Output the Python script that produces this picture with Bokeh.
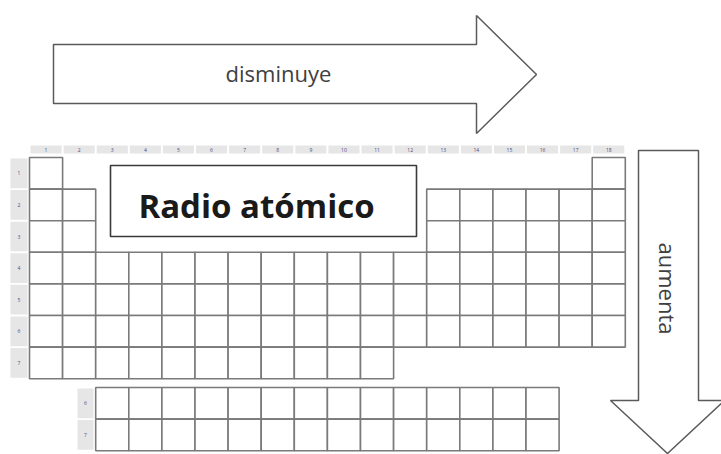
import math
from bokeh.plotting import figure
from bokeh.models import Range1d
from bokeh.core.properties import value
from bokeh.embed import file_html
from bokeh.resources import INLINE

# ---- data ----
groups = list(range(1, 19))
periods = list(range(1, 8))
group_labels = [str(g) for g in groups]
period_labels = [str(p) for p in periods]
# groups present in each period (first, last)
period_spans = [
    [(1, 1), (18, 18)],
    [(1, 2), (13, 18)],
    [(1, 2), (13, 18)],
    [(1, 18)],
    [(1, 18)],
    [(1, 18)],
    [(1, 11)],
]
f_labels = ["6", "7"]
f_count = 14
f_first_group = 3
title_text = "Radio atómico"
row_trend = "disminuye"
col_trend = "aumenta"

# ---- layout (pixel geometry of the picture -> cell units) ----
W, H = 721, 454
X0, CW = 29.0, 33.1
Y0, RH = 157.0, 31.6


def px(X):
    return (X - X0) / CW


def py(Y):
    return (Y - Y0) / RH


p = figure(width=W, height=H, output_backend="svg", toolbar_location=None,
           x_range=Range1d(px(0), px(W)), y_range=Range1d(py(H), py(0)),
           min_border=0)
p.axis.visible = False
p.grid.visible = False
p.outline_line_color = None
p.background_fill_color = "white"
p.border_fill_color = "white"

CELL_LINE = "#7a7a7a"
HEAD_FILL = "#e6e6e6"
NUM_COLOR = "#4a4a80"

# main table cells
cx, cy = [], []
for per, spans in zip(periods, period_spans):
    for a, b in spans:
        for g in range(a, b + 1):
            cx.append(g - 0.5)
            cy.append(per - 0.5)
p.rect(x=cx, y=cy, width=1, height=1, fill_color="white",
       line_color=CELL_LINE, line_width=1.6)

# f-block
f_top = py(387)
fx, fy = [], []
for i in range(len(f_labels)):
    for j in range(f_count):
        fx.append(f_first_group - 1 + j + 0.5)
        fy.append(f_top + i + 0.5)
p.rect(x=fx, y=fy, width=1, height=1, fill_color="white",
       line_color=CELL_LINE, line_width=1.6)

# group header strip
hy = (py(145) + py(153)) / 2
hh = py(153) - py(145)
p.rect(x=[g - 0.5 for g in groups], y=[hy] * len(groups), width=0.94, height=hh,
       fill_color=HEAD_FILL, line_color=None)
p.text(x=[g - 0.5 for g in groups], y=[hy] * len(groups), text=group_labels,
       text_font=value("Open Sans"), text_font_size="5px", text_color=NUM_COLOR,
       text_align="center", text_baseline="middle")

# period header strip
rx = (px(10) + px(27)) / 2
rw = px(27) - px(10)
p.rect(x=[rx] * len(periods), y=[q - 0.5 for q in periods], width=rw, height=0.94,
       fill_color=HEAD_FILL, line_color=None)
p.text(x=[rx] * len(periods), y=[q - 0.5 for q in periods], text=period_labels,
       text_font=value("Open Sans"), text_font_size="5px", text_color=NUM_COLOR,
       text_align="center", text_baseline="middle")

# f-block headers
frx = (px(77) + px(93)) / 2
frw = px(93) - px(77)
fys = [f_top + i + 0.5 for i in range(len(f_labels))]
p.rect(x=[frx] * len(f_labels), y=fys, width=frw, height=0.94,
       fill_color=HEAD_FILL, line_color=None)
p.text(x=[frx] * len(f_labels), y=fys, text=f_labels,
       text_font=value("Open Sans"), text_font_size="5px", text_color=NUM_COLOR,
       text_align="center", text_baseline="middle")

# title box
p.quad(left=px(110), right=px(416), top=py(165), bottom=py(236),
       fill_color="white", line_color="#3a3a3a", line_width=1.6)
p.text(x=[px(256)], y=[py(205)], text=[title_text],
       text_font=value("Open Sans"), text_font_style="bold", text_font_size="33px",
       text_color="#1a1a1a", text_align="center", text_baseline="alphabetic")

# right arrow
ra = [(53, 44), (476, 44), (476, 15), (536, 74), (476, 133), (476, 103), (53, 103)]
p.patch(x=[px(a) for a, b in ra], y=[py(b) for a, b in ra], fill_color="white",
        line_color="#5a5a5a", line_width=1.5)
p.text(x=[px(278)], y=[py(72)], text=[row_trend],
       text_font=value("Open Sans"), text_font_size="22px", text_color="#404040",
       text_align="center", text_baseline="alphabetic")

# down arrow
da = [(638, 150), (698, 150), (698, 400), (724, 400), (667, 453), (610, 400), (638, 400)]
p.patch(x=[px(a) for a, b in da], y=[py(b) for a, b in da], fill_color="white",
        line_color="#5a5a5a", line_width=1.5)
p.text(x=[px(667)], y=[py(288)], text=[col_trend], angle=-math.pi / 2,
       text_font=value("Open Sans"), text_font_size="22px", text_color="#404040",
       text_align="center", text_baseline="middle")

open("out.html", "w").write(file_html(p, INLINE))
